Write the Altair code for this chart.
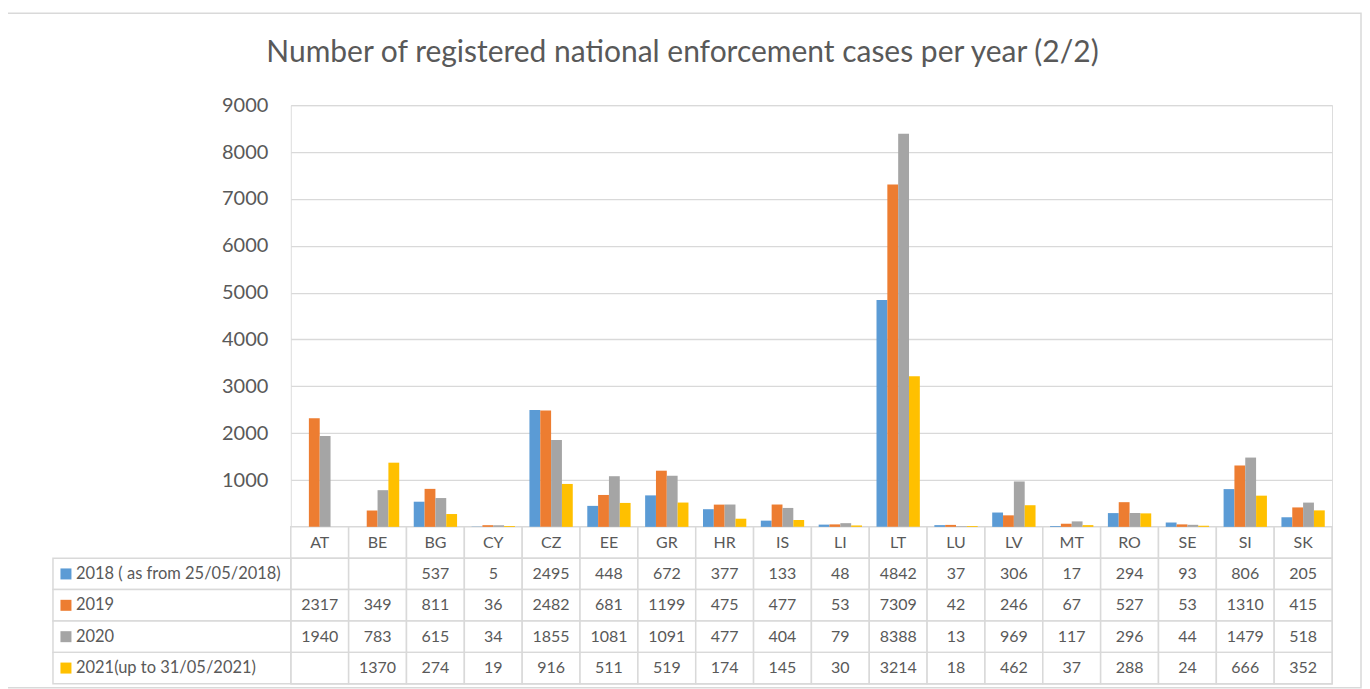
import altair as alt
import pandas as pd

countries = ["AT", "BE", "BG", "CY", "CZ", "EE", "GR", "HR", "IS", "LI",
             "LT", "LU", "LV", "MT", "RO", "SE", "SI", "SK"]
series_names = ["2018 ( as from 25/05/2018)", "2019", "2020", "2021(up to 31/05/2021)"]
colors = ["#5B9BD5", "#ED7D31", "#A5A5A5", "#FFC000"]

v2018 = [None, None, 537, 5, 2495, 448, 672, 377, 133, 48, 4842, 37, 306, 17, 294, 93, 806, 205]
v2019 = [2317, 349, 811, 36, 2482, 681, 1199, 475, 477, 53, 7309, 42, 246, 67, 527, 53, 1310, 415]
v2020 = [1940, 783, 615, 34, 1855, 1081, 1091, 477, 404, 79, 8388, 13, 969, 117, 296, 44, 1479, 518]
v2021 = [None, 1370, 274, 19, 916, 511, 519, 174, 145, 30, 3214, 18, 462, 37, 288, 24, 666, 352]
y_ticks = [1000, 2000, 3000, 4000, 5000, 6000, 7000, 8000, 9000]
title_text = "Number of registered national enforcement cases per year (2/2)"

TXT = "#595959"
LINE = "#d9d9d9"
FONT = "Lato"

# ---- tables built from the arrays ----
records = []
for s, vals in zip(series_names, [v2018, v2019, v2020, v2021]):
    for c, v in zip(countries, vals):
        if v is not None:
            records.append({"country": c, "series": s, "value": v, "label": str(v)})
long_df = pd.DataFrame(records)
cells_df = pd.DataFrame([{"country": c, "series": s} for s in series_names for c in countries])
hdr_df = pd.DataFrame({"country": countries, "row": ["hdr"] * len(countries)})
series_df = pd.DataFrame({"series": series_names})

W, PLOT_H, TABLE_H = 1042, 422, 157
H = PLOT_H + TABLE_H
row_domain = ["hdr"] + series_names


def row_y(field, pos=None):
    kw = {}
    if pos is not None:
        kw["bandPosition"] = pos
    return alt.Y(f"{field}:N",
                 scale=alt.Scale(type="band", domain=row_domain, range=[PLOT_H, H],
                                 paddingInner=0, paddingOuter=0),
                 axis=None, **kw)


def col_x(pos=None):
    kw = {}
    if pos is not None:
        kw["bandPosition"] = pos
    return alt.X("country:N", scale=alt.Scale(domain=countries, paddingInner=0, paddingOuter=0),
                 axis=None, sort=countries, **kw)


color_enc = alt.Color("series:N", scale=alt.Scale(domain=series_names, range=colors), legend=None)

bars = alt.Chart(long_df).mark_bar().encode(
    x=col_x(),
    xOffset=alt.XOffset("series:N", sort=series_names,
                        scale=alt.Scale(domain=series_names, paddingInner=0, paddingOuter=0.67)),
    y=alt.Y("value:Q",
            scale=alt.Scale(domain=[0, 9000], range=[PLOT_H, 0], nice=False),
            axis=alt.Axis(values=y_ticks, format="d", title=None, grid=True, gridColor=LINE,
                          gridWidth=1.3, ticks=False, domain=False, labelFont=FONT,
                          labelFontSize=20, labelColor=TXT, labelPadding=23)),
    color=color_enc,
)

hdr_cells = alt.Chart(hdr_df).mark_rect(fill="white", stroke=LINE, strokeWidth=1.5).encode(
    x=col_x(), y=row_y("row"))
data_cells = alt.Chart(cells_df).mark_rect(fill="white", stroke=LINE, strokeWidth=1.5).encode(
    x=col_x(), y=row_y("series"))
legend_cells = alt.Chart(series_df).mark_rect(fill="white", stroke=LINE, strokeWidth=1.5).encode(
    x=alt.value(-238), x2=alt.value(0), y=row_y("series"))

hdr_text = alt.Chart(hdr_df).mark_text(font=FONT, fontSize=16, color=TXT, baseline="middle").encode(
    x=col_x(0.5), y=row_y("row", 0.5), text="country:N")
val_text = alt.Chart(long_df).mark_text(font=FONT, fontSize=16, color=TXT, baseline="middle").encode(
    x=col_x(0.5), y=row_y("series", 0.5), text="label:N")
legend_sq = alt.Chart(series_df).mark_square(size=121, opacity=1).encode(
    x=alt.value(-225), y=row_y("series", 0.5), color=color_enc)
legend_text = alt.Chart(series_df).mark_text(font=FONT, fontSize=16.5, color=TXT, align="left",
                                             baseline="middle").encode(
    x=alt.value(-215), y=row_y("series", 0.5), text="series:N")

frame = alt.Chart(pd.DataFrame({"k": [0]})).mark_rect(fill="transparent", stroke=LINE,
                                                      strokeWidth=1.5).encode(
    x=alt.value(-284), x2=alt.value(1071), y=alt.value(-92), y2=alt.value(583))

chart = alt.layer(
    frame, hdr_cells, data_cells, legend_cells, bars, hdr_text, val_text, legend_sq, legend_text
).resolve_scale(y="independent").properties(
    width=W, height=H,
    autosize=alt.AutoSizeParams(type="none"),
    padding={"left": 283, "top": 97, "right": 30, "bottom": 5},
    title=alt.TitleParams(title_text, font=FONT, fontSize=30, fontWeight="normal", color=TXT,
                          anchor="middle", dx=-129, offset=-56),
).configure_view(stroke="transparent").configure(background="white")

chart.save("out.html", embed_options={"renderer": "svg", "actions": False})
